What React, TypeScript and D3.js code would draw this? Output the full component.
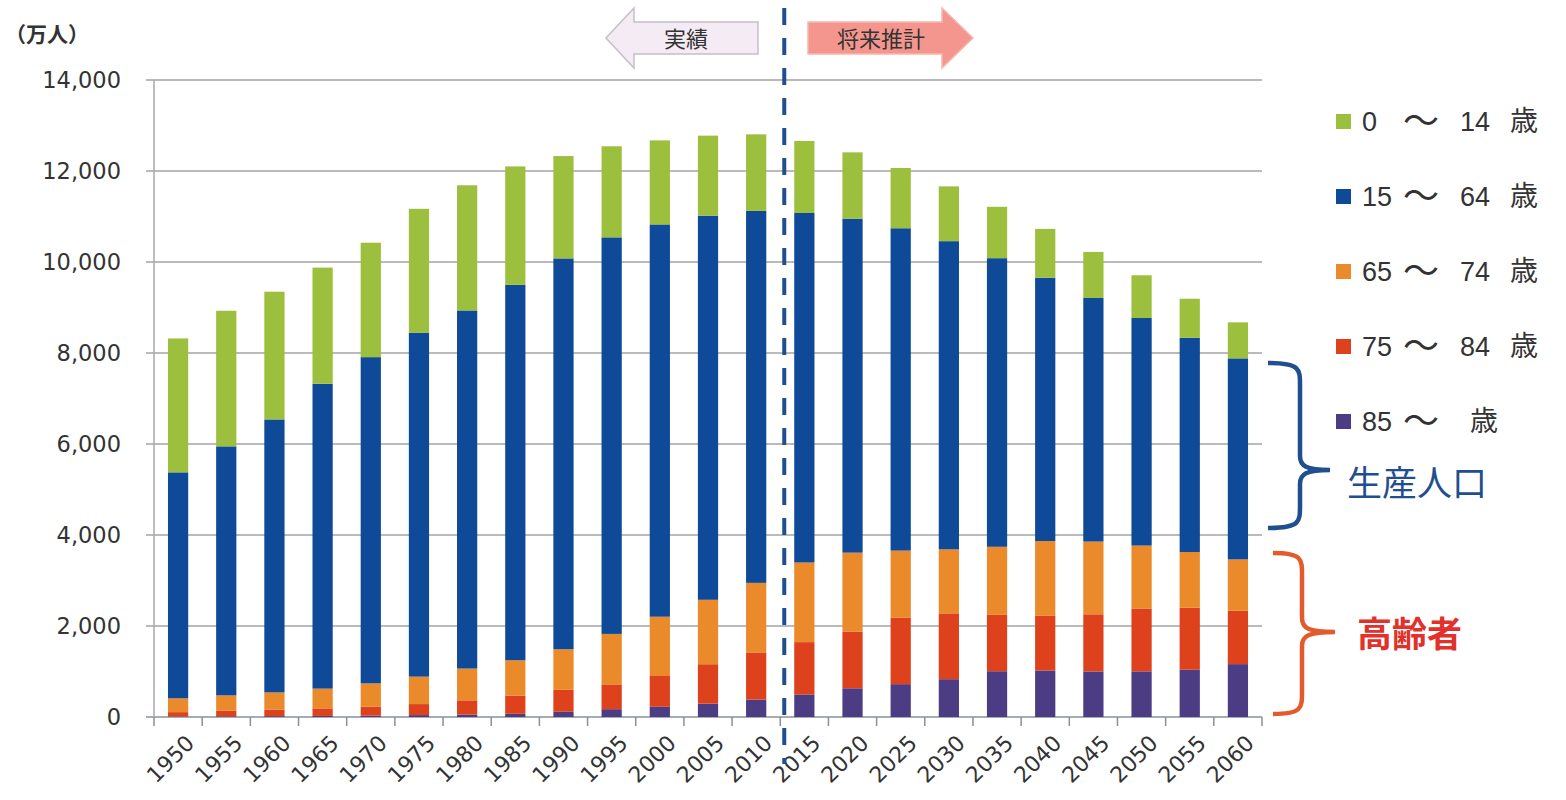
import { useEffect, useRef } from 'react'
import * as d3 from 'd3'

const YEARS = ['1950', '1955', '1960', '1965', '1970', '1975', '1980', '1985', '1990', '1995', '2000', '2005', '2010',
  '2015', '2020', '2025', '2030', '2035', '2040', '2045', '2050', '2055', '2060']

// 万人
const AGE_85_UP = [11, 14, 18, 23, 31, 42, 53, 70, 115, 172, 224, 293, 383, 496, 631, 722, 831, 1006, 1022, 1001, 1003, 1039, 1162]
const AGE_75_84 = [96, 125, 146, 166, 194, 242, 313, 401, 482, 545, 677, 867, 1036, 1150, 1248, 1457, 1447, 1239, 1201, 1256, 1382, 1362, 1174]
const AGE_65_74 = [304, 336, 376, 435, 514, 603, 699, 776, 892, 1109, 1303, 1416, 1529, 1749, 1733, 1478, 1407, 1496, 1645, 1599, 1383, 1225, 1128]
const AGE_15_64 = [4966, 5473, 6000, 6700, 7170, 7560, 7870, 8251, 8590, 8716, 8622, 8442, 8174, 7682, 7341, 7085, 6773, 6343, 5787, 5353, 5001, 4706, 4418]
const AGE_0_14 = [2943, 2980, 2807, 2553, 2515, 2722, 2751, 2603, 2249, 2001, 1847, 1759, 1684, 1583, 1457, 1324, 1204, 1129, 1073, 1012, 939, 861, 791]

const Y_TICKS = [0, 2000, 4000, 6000, 8000, 10000, 12000, 14000]

const SERIES = [
  { key: 'a85', values: AGE_85_UP, color: '#4b3c84' },
  { key: 'a75', values: AGE_75_84, color: '#de421c' },
  { key: 'a65', values: AGE_65_74, color: '#ea8a2a' },
  { key: 'a15', values: AGE_15_64, color: '#0e4a98' },
  { key: 'a0', values: AGE_0_14, color: '#9cbf3e' },
]

// legend rows, top to bottom
const LEGEND = [
  { from: '0', to: '14', color: '#9cbf3e' },
  { from: '15', to: '64', color: '#0e4a98' },
  { from: '65', to: '74', color: '#ea8a2a' },
  { from: '75', to: '84', color: '#de421c' },
  { from: '85', to: '', color: '#4b3c84' },
]

const W = 1566
const H = 800
const JP = '"Noto Sans CJK JP", "Noto Sans", sans-serif'
const NUM = '"DejaVu Sans", Verdana, sans-serif'
const LEG = '"Liberation Sans", Arial, sans-serif'

export default function App() {
  const svgRef = useRef<SVGSVGElement>(null)

  useEffect(() => {
    if (!svgRef.current) return
    const svg = d3.select(svgRef.current)
    svg.selectAll('*').remove()

    const left = 154
    const right = 1262
    const top = 80
    const bottom = 717

    const x = d3.scaleBand<string>().domain(YEARS).range([left, right]).paddingInner(0.58).paddingOuter(0.29)
    const y = d3.scaleLinear().domain([0, 14000]).range([bottom, top])

    svg.append('rect').attr('width', W).attr('height', H).attr('fill', '#ffffff')

    // gridlines
    svg.append('g')
      .selectAll('line')
      .data(Y_TICKS)
      .join('line')
      .attr('x1', left - 8)
      .attr('x2', right)
      .attr('y1', (d) => y(d))
      .attr('y2', (d) => y(d))
      .attr('stroke', (d) => (d === 0 ? '#8a8f99' : '#a3a3a3'))
      .attr('stroke-width', 1.5)

    // y axis line
    svg.append('line')
      .attr('x1', left).attr('x2', left)
      .attr('y1', top).attr('y2', bottom)
      .attr('stroke', '#a8a8a8').attr('stroke-width', 1.5)

    // y tick labels
    svg.append('g')
      .selectAll('text')
      .data(Y_TICKS)
      .join('text')
      .attr('x', 121)
      .attr('y', (d) => y(d))
      .attr('dy', '0.36em')
      .attr('text-anchor', 'end')
      .attr('font-family', NUM)
      .attr('font-size', 22.5)
      .attr('fill', '#333')
      .text((d) => d3.format(',')(d))

    svg.append('text')
      .attr('x', 5).attr('y', 42)
      .attr('font-family', JP).attr('font-size', 21).attr('font-weight', 700)
      .attr('fill', '#333')
      .text('（万人）')

    // stacked bars
    const rows = YEARS.map((yr, i) => {
      const r: Record<string, number | string> = { year: yr }
      SERIES.forEach((s) => { r[s.key] = s.values[i] })
      return r
    })
    const stack = d3.stack<Record<string, number | string>>().keys(SERIES.map((s) => s.key))
    const layers = stack(rows as any)

    svg.append('g')
      .selectAll('g')
      .data(layers)
      .join('g')
      .attr('fill', (_, i) => SERIES[i].color)
      .selectAll('rect')
      .data((d) => d)
      .join('rect')
      .attr('x', (d) => x(d.data.year as string)!)
      .attr('width', x.bandwidth())
      .attr('y', (d) => y(d[1]))
      .attr('height', (d) => y(d[0]) - y(d[1]))

    // x axis ticks between categories
    const step = x.step()
    const tickXs = d3.range(YEARS.length + 1).map((i) => left + i * step)
    svg.append('g')
      .selectAll('line')
      .data(tickXs)
      .join('line')
      .attr('x1', (d) => d).attr('x2', (d) => d)
      .attr('y1', bottom).attr('y2', bottom + 9)
      .attr('stroke', '#8a8f99').attr('stroke-width', 1.5)

    // x labels rotated
    svg.append('g')
      .selectAll('text')
      .data(YEARS)
      .join('text')
      .attr('transform', (d) => `translate(${x(d)! + x.bandwidth() / 2 + 12},${bottom + 22}) rotate(-45)`)
      .attr('text-anchor', 'end')
      .attr('dy', '0.36em')
      .attr('font-family', NUM)
      .attr('font-size', 22)
      .attr('fill', '#333')
      .text((d) => d)

    // divider between actual and projection
    const divX = (x('2010')! + x('2015')! + x.bandwidth()) / 2 + 4
    svg.append('line')
      .attr('x1', divX).attr('x2', divX)
      .attr('y1', 8).attr('y2', 764)
      .attr('stroke', '#1f4f8e').attr('stroke-width', 4)
      .attr('stroke-dasharray', '17 13')

    // arrows
    svg.append('path')
      .attr('d', 'M606,38 L634,8 L634,22 L758,22 L758,54 L634,54 L634,68 Z')
      .attr('fill', '#f5ebf4').attr('stroke', '#c4c0c6').attr('stroke-width', 1.5)
    svg.append('text')
      .attr('x', 686).attr('y', 39).attr('dy', '0.36em')
      .attr('text-anchor', 'middle')
      .attr('font-family', JP).attr('font-size', 22).attr('fill', '#333')
      .text('実績')

    svg.append('path')
      .attr('d', 'M808,22 L942,22 L942,8 L973,38 L942,68 L942,54 L808,54 Z')
      .attr('fill', '#f5968e').attr('stroke', '#f7b7b1').attr('stroke-width', 1.5)
    svg.append('text')
      .attr('x', 881).attr('y', 39).attr('dy', '0.36em')
      .attr('text-anchor', 'middle')
      .attr('font-family', JP).attr('font-size', 22).attr('fill', '#333')
      .text('将来推計')

    // legend
    const leg = svg.append('g')
    LEGEND.forEach((l, i) => {
      const cy = 121 + i * 75
      const g = leg.append('g')
      g.append('rect')
        .attr('x', 1336).attr('y', cy - 7).attr('width', 15).attr('height', 15)
        .attr('fill', l.color)
      const t = (tx: number, s: string, font: string, size: number) =>
        g.append('text')
          .attr('x', tx).attr('y', cy).attr('dy', '0.36em')
          .attr('font-family', font).attr('font-size', size).attr('fill', '#333')
          .text(s)
      t(1362, l.from, LEG, 27)
      t(1403, '～', JP, 36)
      if (l.to) {
        t(1460, l.to, LEG, 27)
        t(1510, '歳', JP, 28)
      } else {
        t(1470, '歳', JP, 28)
      }
    })

    // braces
    const brace = (x0: number, xm: number, tip: number, y0: number, ym: number, y1: number) =>
      `M${x0},${y0} C${xm},${y0} ${xm},${y0 + 6} ${xm},${y0 + 22} L${xm},${ym - 14} ` +
      `C${xm},${ym - 4} ${xm + 6},${ym} ${tip},${ym} ` +
      `C${xm + 6},${ym} ${xm},${ym + 4} ${xm},${ym + 14} L${xm},${y1 - 22} ` +
      `C${xm},${y1 - 6} ${xm},${y1} ${x0},${y1}`

    svg.append('path')
      .attr('d', brace(1268, 1300, 1330, 363, 470, 528))
      .attr('fill', 'none').attr('stroke', '#1f4f8e').attr('stroke-width', 4.5)
    svg.append('text')
      .attr('x', 1347).attr('y', 483).attr('dy', '0.36em')
      .attr('font-family', JP).attr('font-size', 35).attr('fill', '#1f4f8e')
      .text('生産人口')

    svg.append('path')
      .attr('d', brace(1273, 1302, 1335, 553, 632, 714))
      .attr('fill', 'none').attr('stroke', '#e35a2c').attr('stroke-width', 4.5)
    svg.append('text')
      .attr('x', 1357).attr('y', 634).attr('dy', '0.36em')
      .attr('font-family', JP).attr('font-size', 35).attr('font-weight', 700).attr('fill', '#e2302a')
      .text('高齢者')
  }, [])

  return (
    <svg
      ref={svgRef}
      width={W}
      height={H}
      style={{ position: 'absolute', left: 0, top: 0, display: 'block' }}
    />
  )
}
